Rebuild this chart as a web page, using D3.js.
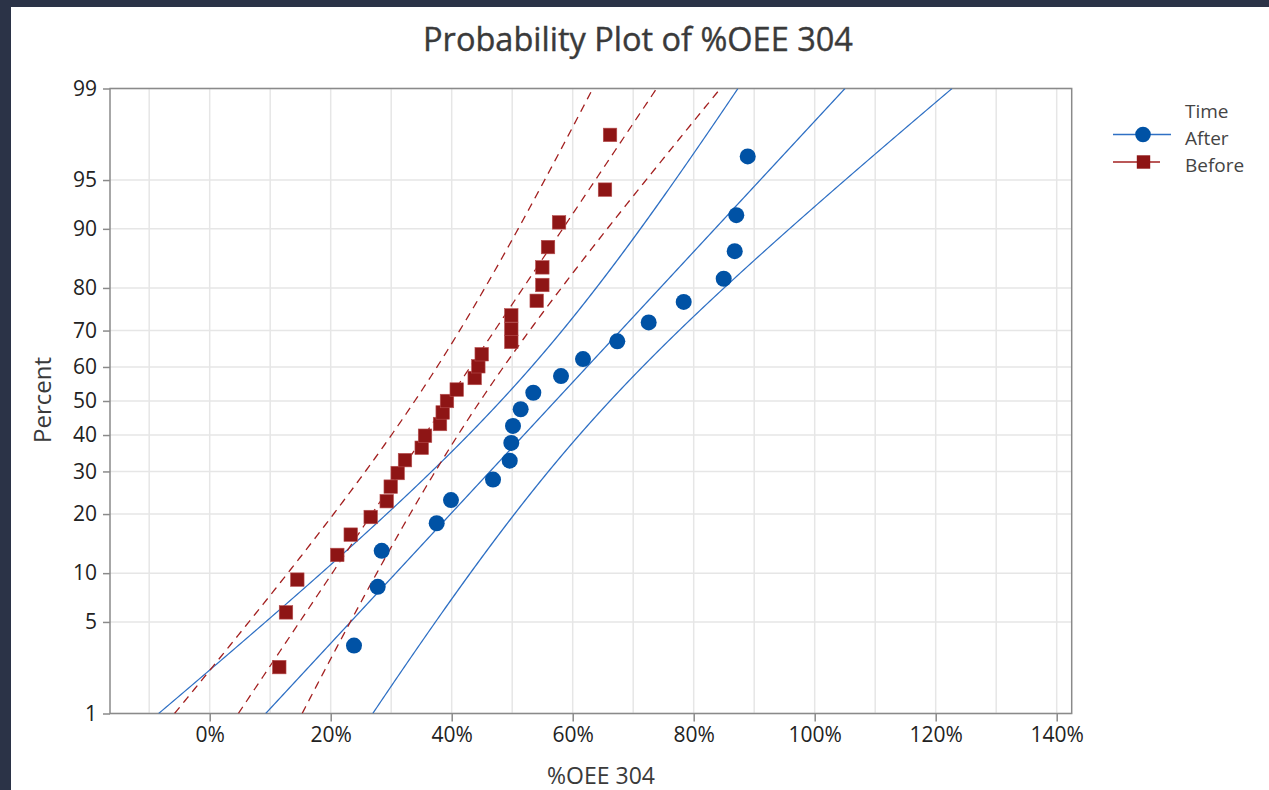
<!DOCTYPE html>
<html>
<head>
<meta charset="utf-8">
<script src="https://cdn.jsdelivr.net/npm/d3@7"></script>
<style>
  html, body { margin: 0; padding: 0; background: #2b3347; }
  svg { display: block; }
  text { font-family: "Open Sans", "Noto Sans", sans-serif; }
</style>
</head>
<body>
<svg id="chart" width="1269" height="790"></svg>
<script>
// ---------------- DATA ----------------
const groups = ["After", "Before"];
const legendTitle = "Time";
const chartTitle = "Probability Plot of %OEE 304";
const xLabel = "%OEE 304";
const yLabel = "Percent";

// "After" sample: %OEE values and plotted percents
const afterValues = [23.85, 27.77, 28.43, 37.52, 39.88, 46.83, 49.59, 49.85, 50.13, 51.40,
                     53.49, 58.07, 61.70, 67.37, 72.56, 78.35, 84.96, 86.78, 87.04, 88.93];
const afterPercents = [3.43, 8.33, 13.24, 18.14, 23.04, 27.94, 32.84, 37.75, 42.65, 47.55,
                       52.45, 57.35, 62.25, 67.16, 72.06, 76.96, 81.86, 86.76, 91.67, 96.57];

// "Before" sample
const beforeValues = [11.50, 12.61, 14.48, 21.09, 23.31, 26.61, 29.26, 29.92, 31.07, 32.28,
                      35.04, 35.59, 38.07, 38.51, 39.22, 40.83, 43.80, 44.40, 44.96, 49.85,
                      49.85, 49.85, 54.05, 54.98, 54.98, 55.92, 57.74, 65.34, 66.17];
const beforePercents = [2.38, 5.78, 9.18, 12.59, 15.99, 19.39, 22.79, 26.19, 29.59, 32.99,
                        36.39, 39.80, 43.20, 46.60, 50.00, 53.40, 56.80, 60.20, 63.61, 67.01,
                        70.41, 73.81, 77.21, 80.61, 84.01, 87.41, 90.82, 94.22, 97.62];

// fitted normal parameters (mean, stdev, N) per group: After, Before
const fitMean = [57.13, 39.30];
const fitStDev = [20.58, 14.86];
const fitN = [20, 29];

// tick labels
const yTicks = [1, 5, 10, 20, 30, 40, 50, 60, 70, 80, 90, 95, 99];
const xTicks = [0, 20, 40, 60, 80, 100, 120, 140];
const xGrid = [-10, 0, 10, 20, 30, 40, 50, 60, 70, 80, 90, 100, 110, 120, 130, 140];

// ---------------- HELPERS ----------------
function probit(p) {
  const a = [-3.969683028665376e+01, 2.209460984245205e+02, -2.759285104469687e+02, 1.383577518672690e+02, -3.066479806614716e+01, 2.506628277459239e+00];
  const b = [-5.447609879822406e+01, 1.615858368580409e+02, -1.556989798598866e+02, 6.680131188771972e+01, -1.328068155922803e+01];
  const c = [-7.784894002430293e-03, -3.223964580411365e-01, -2.400758277161838e+00, -2.549732539343734e+00, 4.374664141464968e+00, 2.938163982698783e+00];
  const d = [7.784695709041462e-03, 3.224671290700398e-01, 2.445134137142996e+00, 3.754408661907416e+00];
  const pl = 0.02425, ph = 1 - pl;
  let q, r;
  if (p < pl) {
    q = Math.sqrt(-2 * Math.log(p));
    return (((((c[0]*q+c[1])*q+c[2])*q+c[3])*q+c[4])*q+c[5]) / ((((d[0]*q+d[1])*q+d[2])*q+d[3])*q+1);
  } else if (p <= ph) {
    q = p - 0.5; r = q * q;
    return (((((a[0]*r+a[1])*r+a[2])*r+a[3])*r+a[4])*r+a[5])*q / (((((b[0]*r+b[1])*r+b[2])*r+b[3])*r+b[4])*r+1);
  } else {
    q = Math.sqrt(-2 * Math.log(1 - p));
    return -(((((c[0]*q+c[1])*q+c[2])*q+c[3])*q+c[4])*q+c[5]) / ((((d[0]*q+d[1])*q+d[2])*q+d[3])*q+1);
  }
}

// ---------------- LAYOUT ----------------
const W = 1269, H = 790;
const plot = { left: 110, right: 1071.7, top: 88.5, bottom: 713.5 };
const blue = "#0052a5", blueLine = "#2f70c4";
const red = "#8e1515", redLine = "#a32020";
const axisCol = "#8a8a8a", gridCol = "#e6e6e6";

const svg = d3.select("#chart");
svg.append("rect").attr("x", 0).attr("y", 0).attr("width", W).attr("height", H).attr("fill", "#2b3347");
svg.append("rect").attr("x", 11).attr("y", 7).attr("width", W - 11).attr("height", H - 7).attr("fill", "#ffffff");

const x = d3.scaleLinear().domain([-16.48, 142.48]).range([plot.left, plot.right]);
const zMin = probit(0.01), zMax = probit(0.99);
const yz = d3.scaleLinear().domain([zMin, zMax]).range([plot.bottom, plot.top]);
const y = p => yz(probit(p / 100));

// clip
svg.append("defs").append("clipPath").attr("id", "clip")
  .append("rect").attr("x", plot.left).attr("y", plot.top)
  .attr("width", plot.right - plot.left).attr("height", plot.bottom - plot.top);

// gridlines
const grid = svg.append("g");
grid.selectAll("line.v").data(xGrid).enter().append("line")
  .attr("x1", d => x(d)).attr("x2", d => x(d))
  .attr("y1", plot.top).attr("y2", plot.bottom)
  .attr("stroke", gridCol).attr("stroke-width", 1.5);
grid.selectAll("line.h").data(yTicks).enter().append("line")
  .attr("x1", plot.left).attr("x2", plot.right)
  .attr("y1", d => y(d)).attr("y2", d => y(d))
  .attr("stroke", gridCol).attr("stroke-width", 1.5);

// axes via d3 axis
const xAxis = d3.axisBottom(x).tickValues(xTicks).tickFormat(d => d + "%").tickSize(8).tickPadding(6);
const gx = svg.append("g").attr("transform", `translate(0,${plot.bottom})`).call(xAxis);
const yAxisScale = d3.scaleLinear().domain([zMin, zMax]).range([plot.bottom, plot.top]);
const yAxis = d3.axisLeft(yAxisScale).tickValues(yTicks.map(p => probit(p / 100)))
  .tickFormat((d, i) => yTicks[i]).tickSize(7).tickPadding(6);
const gy = svg.append("g").attr("transform", `translate(${plot.left},0)`).call(yAxis);
[gx, gy].forEach(g => {
  g.select(".domain").remove();
  g.selectAll(".tick line").attr("stroke", axisCol).attr("stroke-width", 1.5);
  g.selectAll(".tick text").attr("fill", "#222").style("font-size", "21px")
    .style("font-family", "'Open Sans', sans-serif");
});

// frame
svg.append("rect").attr("x", plot.left).attr("y", plot.top)
  .attr("width", plot.right - plot.left).attr("height", plot.bottom - plot.top)
  .attr("fill", "none").attr("stroke", axisCol).attr("stroke-width", 1.5);

// fit lines and confidence bands
const zs = d3.range(0, 201).map(i => zMin + (zMax - zMin) * i / 200);
const lineGen = d3.line().x(d => x(d[0])).y(d => yz(d[1]));
const bands = svg.append("g").attr("clip-path", "url(#clip)");
function drawFit(gi, color, dash) {
  const m = fitMean[gi], s = fitStDev[gi], n = fitN[gi];
  const hw = z => 1.96 * s * Math.sqrt(1 / n + z * z / (2 * (n - 1)));
  const fit = zs.map(z => [m + z * s, z]);
  const lo = zs.map(z => [m + z * s - hw(z), z]);
  const hi = zs.map(z => [m + z * s + hw(z), z]);
  [lo, fit, hi].forEach(pts => {
    bands.append("path").attr("d", lineGen(pts))
      .attr("fill", "none").attr("stroke", color).attr("stroke-width", 1.3)
      .attr("stroke-dasharray", dash);
  });
}
drawFit(0, blueLine, null);
drawFit(1, redLine, "8,6");

// points
const before = beforeValues.map((v, i) => ({ v, p: beforePercents[i] }));
const after = afterValues.map((v, i) => ({ v, p: afterPercents[i] }));
const sq = 13.5;
svg.append("g").selectAll("rect").data(before).enter().append("rect")
  .attr("x", d => x(d.v) - sq / 2).attr("y", d => y(d.p) - sq / 2)
  .attr("width", sq).attr("height", sq).attr("fill", red)
  .attr("stroke", "#b85050").attr("stroke-width", 0.6);
svg.append("g").selectAll("circle").data(after).enter().append("circle")
  .attr("cx", d => x(d.v)).attr("cy", d => y(d.p)).attr("r", 8).attr("fill", blue);

// title & axis labels
svg.append("text").attr("x", 638).attr("y", 51).attr("text-anchor", "middle")
  .attr("fill", "#3a3a3a").attr("stroke", "#3a3a3a").attr("stroke-width", 0.4)
  .style("font-size", "32.5px").text(chartTitle);
svg.append("text").attr("x", 601).attr("y", 784).attr("text-anchor", "middle")
  .attr("fill", "#3a3a3a").style("font-size", "23px").text(xLabel);
svg.append("text").attr("transform", "translate(51,400) rotate(-90)").attr("text-anchor", "middle")
  .attr("fill", "#3a3a3a").style("font-size", "24px").text(yLabel);

// legend
const lg = svg.append("g");
lg.append("text").attr("x", 1185).attr("y", 118).attr("fill", "#444").style("font-size", "19px").text(legendTitle);
lg.append("line").attr("x1", 1113).attr("x2", 1171).attr("y1", 134.5).attr("y2", 134.5)
  .attr("stroke", blueLine).attr("stroke-width", 1.5);
lg.append("circle").attr("cx", 1143).attr("cy", 134.5).attr("r", 7.8).attr("fill", blue);
lg.append("text").attr("x", 1185).attr("y", 145).attr("fill", "#444").style("font-size", "19px").text(groups[0]);
lg.append("line").attr("x1", 1113).attr("x2", 1160).attr("y1", 162).attr("y2", 162)
  .attr("stroke", redLine).attr("stroke-width", 1.5);
lg.append("rect").attr("x", 1143.5 - 6.7).attr("y", 162 - 6.7).attr("width", 13.4).attr("height", 13.4).attr("fill", red);
lg.append("text").attr("x", 1185).attr("y", 172).attr("fill", "#444").style("font-size", "19px").text(groups[1]);
</script>
</body>
</html>
